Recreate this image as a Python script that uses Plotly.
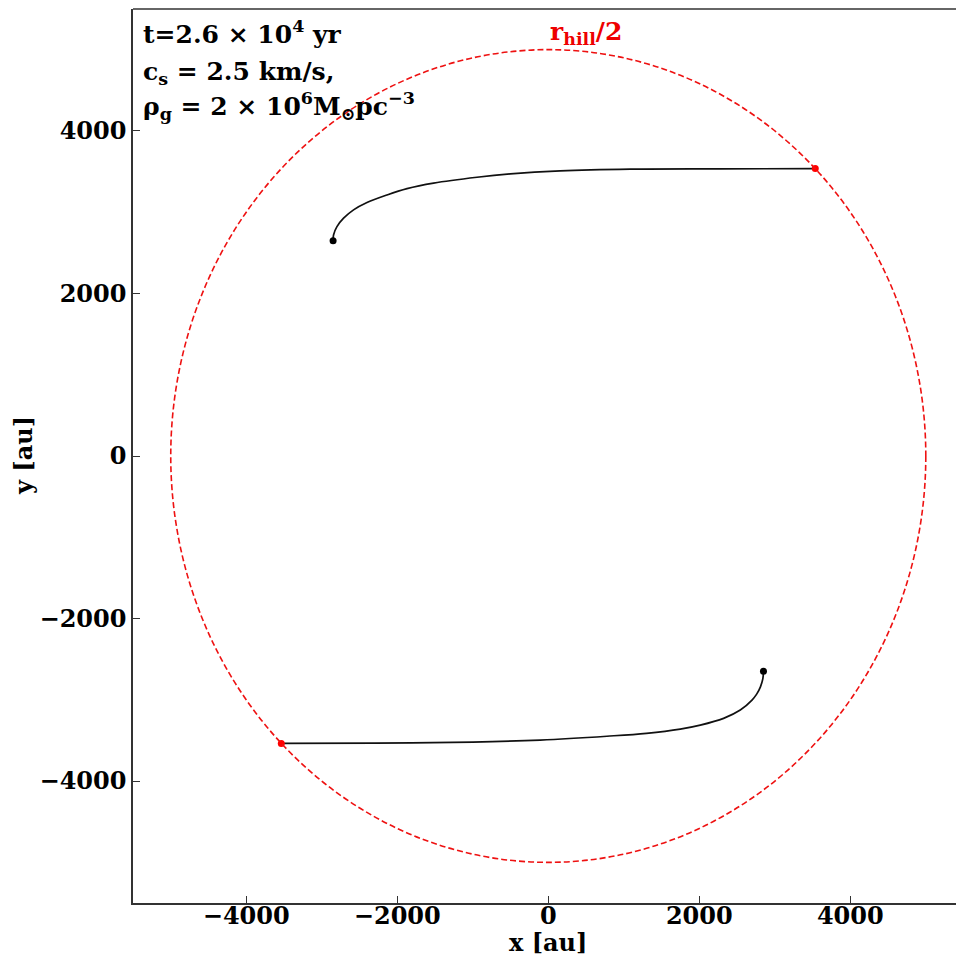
import plotly.graph_objects as go

# Data
upper_x = [-2850, -2844, -2799, -2711, -2579, -2401, -2136, -1871, -1519, -944, -503, 159, 1086, 2278, 3536]
upper_y = [2650, 2720, 2822, 2926, 3028, 3118, 3212, 3290, 3358, 3430, 3471, 3508, 3529, 3533, 3536]
lower_x = [2850, 2842, 2810, 2760, 2698, 2543, 2322, 2013, 1748, 1300, 777, -106, -1000, -2300, -3536]
lower_y = [-2650, -2740, -2840, -2930, -3003, -3126, -3228, -3311, -3360, -3412, -3448, -3495, -3520, -3532, -3536]
start_x = [-2850, 2850]
start_y = [2650, -2650]
end_x = [3536, -3536]
end_y = [3536, -3536]
r_hill_half = 5000
x_ticks = [-4000, -2000, 0, 2000, 4000]
y_ticks = [-4000, -2000, 0, 2000, 4000]

FONT = "DejaVu Serif"

fig = go.Figure()
fig.add_shape(type="circle", xref="x", yref="y",
              x0=-r_hill_half, x1=r_hill_half, y0=-r_hill_half, y1=r_hill_half,
              line=dict(color="#ee1111", width=1.6, dash="6px,3px"))
fig.add_trace(go.Scatter(x=upper_x, y=upper_y, mode="lines",
                         line=dict(color="#111111", width=1.7, shape="spline", smoothing=1.0)))
fig.add_trace(go.Scatter(x=lower_x, y=lower_y, mode="lines",
                         line=dict(color="#111111", width=1.7, shape="spline", smoothing=1.0)))
fig.add_trace(go.Scatter(x=start_x, y=start_y, mode="markers", marker=dict(color="black", size=7)))
fig.add_trace(go.Scatter(x=end_x, y=end_y, mode="markers", marker=dict(color="#ff0000", size=7)))

axis_common = dict(
    showgrid=False, zeroline=False, showline=True, linecolor="#333333", linewidth=1.5,
    ticks="inside", ticklen=7, tickwidth=1.2, tickcolor="#333333",
    tickfont=dict(family=FONT, size=24, color="black", weight="bold"),
    automargin=False,
)
fig.update_xaxes(range=[-5500, 5400], tickvals=x_ticks, ticklabelstandoff=-10, **axis_common)
fig.update_yaxes(range=[-5500, 5500], tickvals=y_ticks, **axis_common)

# top border
fig.add_shape(type="line", xref="paper", yref="paper", x0=0, x1=1, y0=1, y1=1,
              line=dict(color="#333333", width=1.5))

ann_font = dict(family=FONT, size=25, color="black", weight="bold")
fig.add_annotation(xref="paper", yref="paper", x=0.01, y=0.994, xanchor="left", yanchor="top",
                   text="t=2.6 × 10<sup>4</sup> yr", showarrow=False, font=ann_font)
fig.add_annotation(xref="paper", yref="paper", x=0.01, y=0.949, xanchor="left", yanchor="top",
                   text="c<sub>s</sub> = 2.5 km/s,", showarrow=False, font=ann_font)
fig.add_annotation(xref="paper", yref="paper", x=0.01, y=0.914, xanchor="left", yanchor="top",
                   text="ρ<sub>g</sub> = 2 × 10<sup>6</sup>M<sub>⊙</sub>pc<sup>−3</sup>", showarrow=False, font=ann_font)
fig.add_annotation(xref="x", yref="y", x=0, y=5200, xanchor="left", yanchor="middle",
                   text="r<sub>hill</sub>/2", showarrow=False,
                   font=dict(family=FONT, size=25, color="#ee0000", weight="bold"))

# axis titles
fig.add_annotation(xref="x", yref="paper", x=0, y=0, yshift=-39, xanchor="center", yanchor="middle",
                   text="x [au]", showarrow=False, font=dict(family=FONT, size=24, color="black", weight="bold"))
fig.add_annotation(xref="paper", yref="y", x=0, y=0, xshift=-110, xanchor="center", yanchor="middle",
                   text="y [au]", textangle=-90, showarrow=False, font=dict(family=FONT, size=24, color="black", weight="bold"))

fig.update_layout(
    width=956, height=956,
    margin=dict(l=133, r=0, t=9, b=53, pad=0),
    plot_bgcolor="white", paper_bgcolor="white",
    showlegend=False,
)

fig.write_html("out.html", config={"displayModeBar": False},
               post_script="document.body.style.margin='0';document.body.style.overflow='hidden';")
